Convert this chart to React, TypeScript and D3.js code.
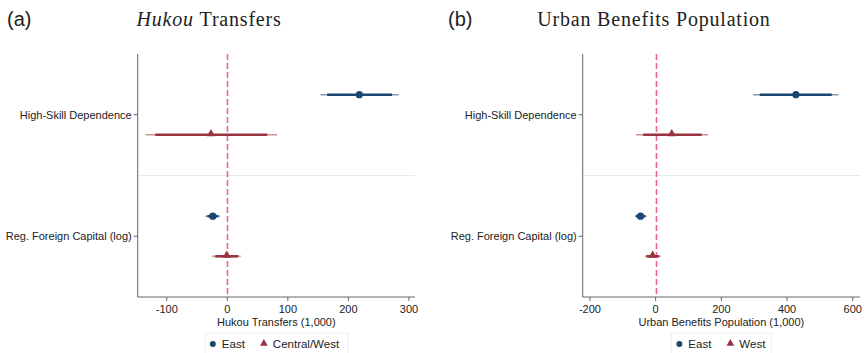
import React from "react";
import * as d3 from "d3";

const categories = ["High-Skill Dependence", "Reg. Foreign Capital (log)"];

// Panel (a): Hukou Transfers
const aTicks = [-100, 0, 100, 200, 300];
const aEastEst = [218, -24];
const aEastLo90 = [165, -33];
const aEastHi90 = [272, -15];
const aEastLo95 = [154, -36];
const aEastHi95 = [283, -12];
const aCWEst = [-27, -1];
const aCWLo90 = [-119, -20];
const aCWHi90 = [66, 18];
const aCWLo95 = [-135, -25];
const aCWHi95 = [82, 22];

// Panel (b): Urban Benefits Population
const bTicks = [-200, 0, 200, 400, 600];
const bEastEst = [427, -46];
const bEastLo90 = [317, -60];
const bEastHi90 = [536, -32];
const bEastLo95 = [297, -63];
const bEastHi95 = [556, -27];
const bWEst = [49, -9];
const bWLo90 = [-38, -28];
const bWHi90 = [140, 10];
const bWLo95 = [-60, -33];
const bWHi95 = [160, 16];

const NAVY = "#1a476f";
const MAROON = "#9a3340";
const ZERO = "#f0648c";
const SANS = "'Liberation Sans', Arial, sans-serif";
const SERIF = "'Liberation Serif', 'Times New Roman', serif";

type Series = { name: string; color: string; shape: "circle" | "triangle"; est: number[]; lo90: number[]; hi90: number[]; lo95: number[]; hi95: number[] };

function Panel(props: {
  left: number; right: number; domain: [number, number]; ticks: number[];
  label: string; labelX: number; titleX: number; titleItalic: string; titleRest: string;
  xTitle: string; series: Series[]; legendW: number;
}) {
  const { left, right, domain, ticks, series } = props;
  const top = 54, bottom = 297;
  const x = d3.scaleLinear().domain(domain).range([left, right]);
  const y = d3.scalePoint<string>().domain(categories).range([top, bottom]).padding(0.5);
  const step = y.step();
  const off = step * 0.165;
  const cx = (left + right) / 2;
  const sepY = (y(categories[0])! + y(categories[1])!) / 2;
  const tri = d3.symbol().type(d3.symbolTriangle).size(30)();
  const lw = props.legendW;
  const lx = cx - lw / 2;
  const zx = Math.round(x(0)) + 0.5;
  return (
    <g>
      <text x={props.labelX} y={25.5} fontFamily={SANS} fontSize={20} fill="#222">{props.label}</text>
      <text x={props.titleX} y={26} fontFamily={SERIF} fontSize={20} fill="#222" textAnchor="middle" letterSpacing={0.8}>
        {props.titleItalic ? <tspan fontStyle="italic">{props.titleItalic} </tspan> : null}
        <tspan>{props.titleRest}</tspan>
      </text>
      <line x1={left} x2={right} y1={sepY} y2={sepY} stroke="#e4ecee" strokeWidth={1} />
      <line x1={zx} x2={zx} y1={top} y2={bottom} stroke={ZERO} strokeWidth={1.6} strokeDasharray="6,3" />
      <line x1={left} x2={left} y1={top} y2={bottom} stroke="#666" strokeWidth={1} />
      <line x1={left} x2={right} y1={bottom} y2={bottom} stroke="#666" strokeWidth={1} />
      {ticks.map((t) => (
        <g key={t}>
          <line x1={x(t)} x2={x(t)} y1={bottom} y2={bottom + 4} stroke="#666" />
          <text x={x(t)} y={bottom + 16} fontFamily={SANS} fontSize={11} fill="#222" textAnchor="middle">{t}</text>
        </g>
      ))}
      {categories.map((c) => (
        <g key={c}>
          <line x1={left - 4} x2={left} y1={y(c)!} y2={y(c)!} stroke="#666" />
          <text x={left - 6} y={y(c)! + 4} fontFamily={SANS} fontSize={11} fill="#222" textAnchor="end">{c}</text>
        </g>
      ))}
      <text x={cx} y={bottom + 29} fontFamily={SANS} fontSize={11} fill="#222" textAnchor="middle">{props.xTitle}</text>
      {series.map((s, si) =>
        categories.map((c, ci) => {
          const yy = y(c)! + (si === 0 ? -off : off);
          return (
            <g key={s.name + c}>
              <line x1={x(s.lo95[ci])} x2={x(s.hi95[ci])} y1={yy} y2={yy} stroke={s.color} strokeOpacity={0.55} strokeWidth={1.6} />
              <line x1={x(s.lo90[ci])} x2={x(s.hi90[ci])} y1={yy} y2={yy} stroke={s.color} strokeWidth={2.6} />
              {s.shape === "circle" ? (
                <circle cx={x(s.est[ci])} cy={yy} r={3.6} fill={s.color} />
              ) : (
                <path d={tri!} transform={`translate(${x(s.est[ci])},${yy - 1})`} fill={s.color} />
              )}
            </g>
          );
        })
      )}
      <rect x={lx} y={333} width={lw} height={22} fill="white" stroke="#eeeeee" />
      {(() => {
        const items: JSX.Element[] = [];
        let px = lx + 8;
        series.forEach((s, i) => {
          const ly = 344;
          items.push(
            s.shape === "circle" ? (
              <circle key={"m" + i} cx={px} cy={ly} r={3} fill={s.color} />
            ) : (
              <path key={"m" + i} d={d3.symbol().type(d3.symbolTriangle).size(26)()!} transform={`translate(${px},${ly - 0.5})`} fill={s.color} />
            )
          );
          items.push(
            <text key={"t" + i} x={px + 9} y={ly + 4} fontFamily={SANS} fontSize={11.5} fill="#222">{s.name}</text>
          );
          px += 51;
        });
        return items;
      })()}
    </g>
  );
}

export default function App() {
  const aSeries: Series[] = [
    { name: "East", color: NAVY, shape: "circle", est: aEastEst, lo90: aEastLo90, hi90: aEastHi90, lo95: aEastLo95, hi95: aEastHi95 },
    { name: "Central/West", color: MAROON, shape: "triangle", est: aCWEst, lo90: aCWLo90, hi90: aCWHi90, lo95: aCWLo95, hi95: aCWHi95 },
  ];
  const bSeries: Series[] = [
    { name: "East", color: NAVY, shape: "circle", est: bEastEst, lo90: bEastLo90, hi90: bEastHi90, lo95: bEastLo95, hi95: bEastHi95 },
    { name: "West", color: MAROON, shape: "triangle", est: bWEst, lo90: bWLo90, hi90: bWHi90, lo95: bWLo95, hi95: bWHi95 },
  ];
  return (
    <svg width={865} height={353} style={{ position: "absolute", left: 0, top: 0, background: "white" }}>
      <rect width={865} height={353} fill="white" />
      <Panel left={137.7} right={415} domain={[-148, 310]} ticks={aTicks} label="(a)" labelX={7} titleX={209}
        titleItalic="Hukou" titleRest="Transfers" xTitle="Hukou Transfers (1,000)" series={aSeries} legendW={143} />
      <Panel left={582.7} right={860} domain={[-222, 622]} ticks={bTicks} label="(b)" labelX={448} titleX={654}
        titleItalic="" titleRest="Urban Benefits Population" xTitle="Urban Benefits Population (1,000)" series={bSeries} legendW={100} />
    </svg>
  );
}
